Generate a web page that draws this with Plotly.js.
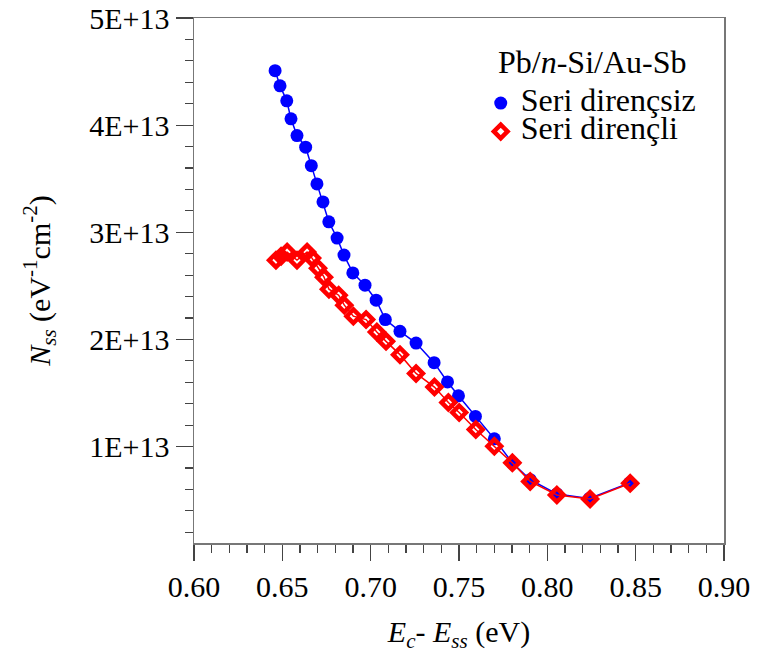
<!DOCTYPE html>
<html>
<head>
<meta charset="utf-8">
<script src="https://cdn.plot.ly/plotly-3.0.1.min.js"></script>
<style>html,body{margin:0;padding:0;background:#fff;}#chart{width:757px;height:659px;}</style>
</head>
<body>
<div id="chart"></div>
<script>
// Seri dirençsiz (blue circles)
const xBlue = [0.6459,0.6487,0.6525,0.6549,0.6583,0.6632,0.6664,0.6696,0.6730,0.6763,0.6810,0.6849,0.6899,0.6968,0.7031,0.7083,0.7166,0.7257,0.7359,0.7435,0.7497,0.7593,0.7700,0.7802,0.7903,0.8054,0.8238,0.8465];
const yBlue = [4.508e13,4.367e13,4.227e13,4.059e13,3.903e13,3.794e13,3.622e13,3.451e13,3.283e13,3.098e13,2.946e13,2.787e13,2.621e13,2.506e13,2.366e13,2.185e13,2.076e13,1.966e13,1.783e13,1.603e13,1.474e13,1.281e13,1.072e13,0.848e13,0.691e13,0.558e13,0.516e13,0.660e13];
// Seri dirençli (red diamonds)
const xRed = [0.6464,0.6493,0.6527,0.6583,0.6640,0.6668,0.6702,0.6736,0.6764,0.6819,0.6851,0.6902,0.6974,0.7035,0.7087,0.7166,0.7257,0.7361,0.7440,0.7501,0.7595,0.7700,0.7802,0.7903,0.8054,0.8242,0.8469];
const yRed = [2.740e13,2.777e13,2.815e13,2.740e13,2.815e13,2.759e13,2.665e13,2.581e13,2.469e13,2.413e13,2.320e13,2.217e13,2.185e13,2.069e13,1.982e13,1.858e13,1.683e13,1.555e13,1.412e13,1.318e13,1.159e13,1.003e13,0.848e13,0.675e13,0.548e13,0.511e13,0.657e13];
const yTickVals = [1e13,2e13,3e13,4e13,5e13];
const yTickText = ["1E+13","2E+13","3E+13","4E+13","5E+13"];
const seriesNames = ["Seri dirençsiz","Seri dirençli"];
const legendTitle = "Pb/<i>n</i>-Si/Au-Sb";

const font = "'Liberation Serif', 'Times New Roman', serif";
const big = s => "<span style='font-size:32px'>" + s + "</span>";
const traces = [
  {x: xBlue, y: yBlue, type: "scatter", mode: "lines", showlegend: false, hoverinfo: "skip",
   line: {color: "#0000ff", width: 1.5}},
  {x: xBlue, y: yBlue, name: big(seriesNames[0]), type: "scatter", mode: "markers",
   marker: {symbol: "circle", size: 13, color: "#0000ff"}},
  {x: xRed, y: yRed, type: "scatter", mode: "lines", showlegend: false, hoverinfo: "skip",
   line: {color: "#ff0000", width: 1.5}},
  {x: xRed, y: yRed, name: big(seriesNames[1]), type: "scatter", mode: "markers",
   marker: {symbol: "diamond-open", size: 10.5, color: "#ff0000", line: {color: "#ff0000", width: 4.5}}}
];
const axisCommon = {
  showline: true, linecolor: "#777", linewidth: 1.5, mirror: true,
  showgrid: false, zeroline: false, ticks: "outside", tickcolor: "#444", tickwidth: 1.2,
  tickfont: {family: font, size: 30, color: "#000"}
};
const layout = {
  width: 757, height: 659,
  margin: {l: 194, r: 33, t: 18, b: 116},
  paper_bgcolor: "#fff", plot_bgcolor: "#fff",
  font: {family: font, color: "#000"},
  showlegend: true,
  legend: {x: 0.541, y: 0.8745, xanchor: "left", yanchor: "top",
    bgcolor: "rgba(0,0,0,0)", font: {family: font, size: 19.5, color: "#000"},
    tracegroupgap: 0, itemwidth: 30},
  annotations: [{text: legendTitle, xref: "paper", yref: "paper", x: 0.751, y: 0.916,
    xanchor: "center", yanchor: "middle", showarrow: false,
    font: {family: font, size: 32, color: "#000"}}],
  xaxis: Object.assign({}, axisCommon, {
    range: [0.6, 0.9], tick0: 0.6, dtick: 0.05, tickformat: ".2f", ticklen: 16,
    minor: {dtick: 0.01, tick0: 0.6, ticks: "outside", ticklen: 8, tickcolor: "#444"},
    title: {text: "<i>E</i><sub><i>c</i></sub>- <i>E</i><sub><i>ss</i></sub> (eV)", font: {family: font, size: 30, color: "#000"}, standoff: 19}
  }),
  yaxis: Object.assign({}, axisCommon, {
    range: [1e12, 5e13], tickmode: "array", tickvals: yTickVals, ticktext: yTickText, ticklen: 17,
    minor: {dtick: 2e12, tick0: 0, ticks: "outside", ticklen: 8, tickcolor: "#444"},
    title: {text: "<i>N</i><sub><i>ss</i></sub> (eV<sup>-1</sup>cm<sup>-2</sup>)", font: {family: font, size: 30, color: "#000"}, standoff: 30}
  })
};
Plotly.newPlot("chart", traces, layout, {displayModeBar: false, staticPlot: true});
</script>
</body>
</html>
